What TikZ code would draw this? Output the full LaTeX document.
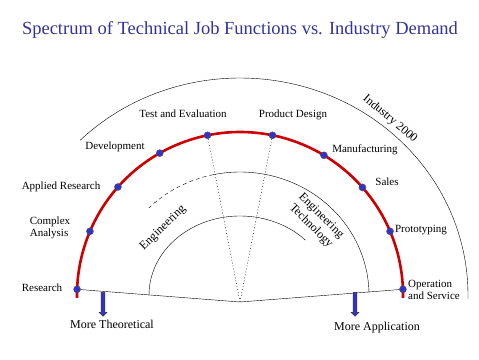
\documentclass[tikz,border=0pt]{standalone}
\usepackage{fontspec}
\setmainfont{Liberation Serif}
\usetikzlibrary{shapes.arrows}

\definecolor{titleblue}{RGB}{51,51,153}
\definecolor{dotblue}{RGB}{51,51,204}
\definecolor{arcred}{RGB}{204,0,0}

\tikzset{
    dot/.style={circle, fill=dotblue, draw=black!70, line width=0.4pt, minimum size=7pt, inner sep=0pt},
    lbl/.style={font=\fontsize{11}{12}\selectfont, inner sep=1pt},
    arclbl/.style={font=\fontsize{12}{13}\selectfont, inner sep=1pt},
    pusharrow/.style={single arrow, rotate=-90, fill=dotblue, draw=black!80, line width=0.5pt,
        minimum height=24pt, inner sep=1.6pt, single arrow head extend=2pt, single arrow head indent=0pt},
}

\begin{document}
\begin{tikzpicture}[x=1pt, y=1pt, thin]
    \useasboundingbox (0,0) rectangle (479,359);
    \coordinate (C) at (240,64);
    \coordinate (apex) at (240,57);

    \node[font=\fontsize{18.5}{21}\selectfont, text=titleblue] (title) at (240,329)
        {Spectrum of Technical Job Functions vs. Industry Demand};

    % outer arc and the two inner arcs
    \draw ([shift={(134.5:228 and 217)}]C) arc[start angle=134.5, end angle=-1, x radius=228, y radius=217];
    \draw ([shift={(1:129 and 123)}]C) arc[start angle=1, end angle=102, x radius=129, y radius=123];
    \draw[dash pattern=on 4pt off 3pt] ([shift={(102:129 and 123)}]C) arc[start angle=102, end angle=135, x radius=129, y radius=123];
    \draw ([shift={(44:91 and 79)}]C) arc[start angle=44, end angle=180.5, x radius=91, y radius=79];

    \draw[arcred, line width=2.6pt] ([shift={(-1:163)}]C) arc[start angle=-1, end angle=181, radius=163];

    \node[dot] (res)   at ([shift={(178:163)}]C) {};
    \node[dot] (cplx)  at ([shift={(157:163)}]C) {};
    \node[dot] (appl)  at ([shift={(138.5:163)}]C) {};
    \node[dot] (dev)   at ([shift={(119.5:163)}]C) {};
    \node[dot] (test)  at ([shift={(101.5:163)}]C) {};
    \node[dot] (prod)  at ([shift={(78.5:163)}]C) {};
    \node[dot] (manu)  at ([shift={(59:163)}]C) {};
    \node[dot] (sales) at ([shift={(41.3:163)}]C) {};
    \node[dot] (proto) at ([shift={(23:163)}]C) {};
    \node[dot] (ops)   at ([shift={(2:163)}]C) {};

    \draw (res) -- (apex) -- (ops);
    \draw[dash pattern=on 1pt off 2pt] (test) -- (apex);
    \draw[dash pattern=on 1pt off 2pt] (prod) -- (apex);

    \node[lbl] (resL)   at (42,71)  {Research};
    \node[lbl, align=left] (cplxL) at (50,131) {Complex\\Analysis};
    \node[lbl] (applL)  at (61,172) {Applied Research};
    \node[lbl] (devL)   at (115,212) {Development};
    \node[lbl] (testL)  at (183,245) {Test and Evaluation};
    \node[lbl] (prodL)  at (293,244) {Product Design};
    \node[lbl] (manuL)  at (365,209) {Manufacturing};
    \node[lbl] (salesL) at (387,177) {Sales};
    \node[lbl] (protoL) at (421,129) {Prototyping};
    \node[lbl, align=left] (opsL) at (434,69) {Operation\\and Service};

    \node[arclbl, rotate=-40] (ind) at (390,240) {Industry 2000};
    \node[arclbl, rotate=44] (eng) at (163,131) {Engineering};
    \node[arclbl, rotate=-45] (engtA) at (321,143) {Engineering};
    \node[arclbl, rotate=-45] (engtB) at (311,133) {Technology};

    % the two push arrows
    \node[pusharrow, anchor=tail] (theo) at (103,67) {};
    \node[pusharrow, anchor=tail] (appn) at (355,67) {};
    \node[font=\fontsize{12}{13}\selectfont] (theoL) at (112,35) {More Theoretical};
    \node[font=\fontsize{12}{13}\selectfont] (appnL) at (377,31) {More Application};
\end{tikzpicture}
\end{document}
